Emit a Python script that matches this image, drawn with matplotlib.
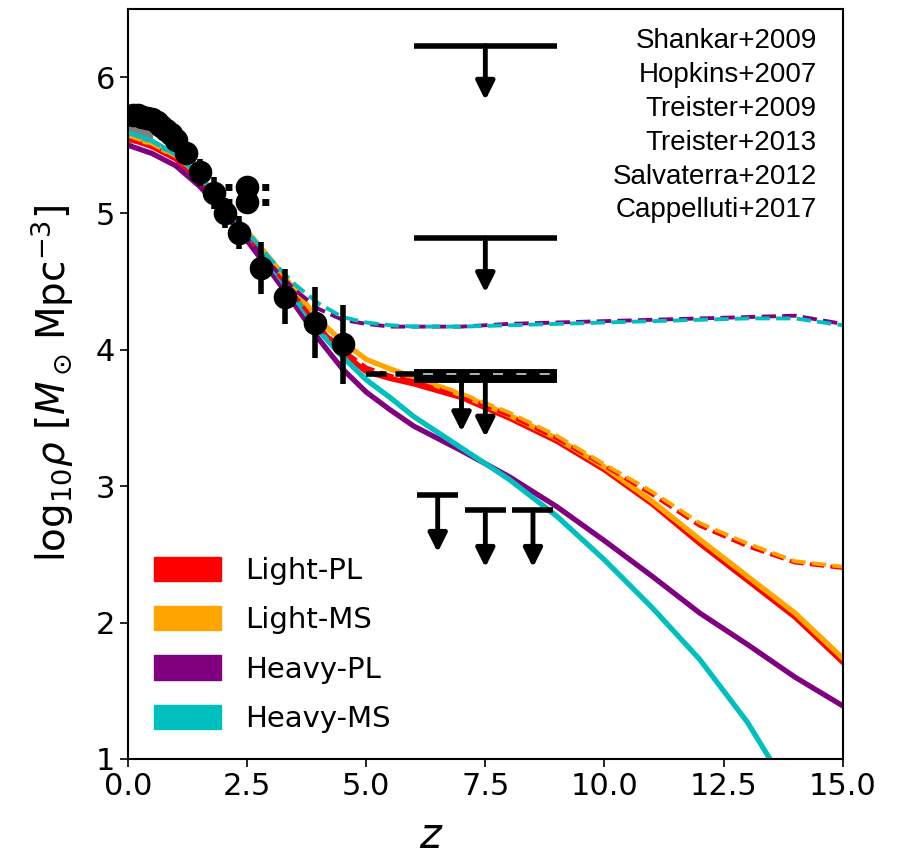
import numpy as np
import matplotlib
matplotlib.use("Agg")
import matplotlib.pyplot as plt
from matplotlib.patches import Patch

# ---------------- data ----------------
z_model = [0, 0.5, 1, 1.5, 2, 2.5, 3, 3.5, 4, 4.5, 5, 5.5, 6, 7, 8, 9, 10, 11, 12, 13, 14, 15]

light_pl = [5.55, 5.49, 5.40, 5.25, 5.05, 4.84, 4.62, 4.39, 4.16, 3.98, 3.84, 3.79, 3.75, 3.65, 3.50, 3.33, 3.12, 2.87, 2.58, 2.31, 2.04, 1.71]
light_ms = [5.57, 5.51, 5.42, 5.27, 5.08, 4.87, 4.66, 4.44, 4.22, 4.06, 3.93, 3.86, 3.80, 3.67, 3.52, 3.35, 3.14, 2.89, 2.61, 2.34, 2.07, 1.74]
heavy_pl = [5.50, 5.44, 5.35, 5.20, 5.01, 4.80, 4.57, 4.33, 4.08, 3.86, 3.69, 3.56, 3.44, 3.26, 3.07, 2.85, 2.60, 2.34, 2.07, 1.84, 1.60, 1.39]
heavy_ms = [5.59, 5.53, 5.43, 5.27, 5.07, 4.85, 4.62, 4.38, 4.14, 3.95, 3.78, 3.65, 3.51, 3.28, 3.05, 2.78, 2.46, 2.11, 1.73, 1.27, 0.70, 0.20]

light_pl_d = [5.55, 5.49, 5.40, 5.25, 5.05, 4.84, 4.62, 4.40, 4.17, 4.00, 3.87, 3.81, 3.77, 3.66, 3.52, 3.35, 3.15, 2.94, 2.71, 2.56, 2.44, 2.40]
light_ms_d = [5.57, 5.51, 5.42, 5.27, 5.08, 4.87, 4.66, 4.44, 4.22, 4.06, 3.93, 3.86, 3.80, 3.68, 3.54, 3.37, 3.16, 2.96, 2.73, 2.58, 2.45, 2.41]
heavy_pl_d = [5.50, 5.44, 5.35, 5.20, 5.01, 4.82, 4.62, 4.44, 4.30, 4.22, 4.19, 4.17, 4.17, 4.17, 4.19, 4.20, 4.21, 4.22, 4.23, 4.24, 4.25, 4.19]
heavy_ms_d = [5.59, 5.53, 5.43, 5.27, 5.08, 4.87, 4.66, 4.48, 4.34, 4.24, 4.20, 4.18, 4.17, 4.17, 4.18, 4.19, 4.20, 4.21, 4.22, 4.23, 4.23, 4.18]

# Shankar+2009 (dense low-z points) and grey band
z_shankar = [0.1, 0.2, 0.3, 0.4, 0.5, 0.6, 0.7, 0.8, 0.9, 1.0]
rho_shankar = [5.72, 5.72, 5.71, 5.70, 5.69, 5.67, 5.64, 5.61, 5.58, 5.54]
err_shankar = [0.04, 0.04, 0.04, 0.04, 0.05, 0.05, 0.05, 0.06, 0.06, 0.06]
z_band = [0.0, 0.25, 0.5]
band_lo = [5.52, 5.52, 5.50]
band_hi = [5.64, 5.63, 5.60]

# Hopkins+2007
z_hopkins = [1.22, 1.51, 1.80, 2.03, 2.33, 2.79, 3.29, 3.92, 4.51]
rho_hopkins = [5.44, 5.30, 5.15, 5.00, 4.86, 4.60, 4.39, 4.20, 4.04]
err_hopkins = [0.08, 0.10, 0.12, 0.11, 0.12, 0.19, 0.20, 0.26, 0.29]

# Treister+2009
z_treister09 = [2.49, 2.49]
rho_treister09 = [5.19, 5.08]
zlo_treister09 = [0.45, 0.45]
zhi_treister09 = [0.7, 0.7]

# upper limits: z centre, value, half width, arrow length
z_ul = [7.5, 7.5, 7.5, 7.0, 6.5, 7.5, 8.5]
rho_ul = [6.23, 4.82, 3.81, 3.82, 2.935, 2.825, 2.825]
zw_ul = [1.5, 1.5, 1.5, 2.0, 0.43, 0.43, 0.43]
len_ul = [0.40, 0.40, 0.45, 0.42, 0.42, 0.42, 0.42]
lw_ul = [4, 4, 10, 4, 4, 4, 4]
ls_ul = ['-', '-', '-', '--', '-', '-', '-']

labels = ['Light-PL', 'Light-MS', 'Heavy-PL', 'Heavy-MS']
colors = ['red', 'orange', 'purple', 'c']
refs = ['Shankar+2009', 'Hopkins+2007', 'Treister+2009', 'Treister+2013',
        'Salvaterra+2012', 'Cappelluti+2017']

# ---------------- plot ----------------
fig = plt.figure(figsize=(9.08, 8.57), dpi=100)
ax = fig.add_axes([0.141, 0.1144, 0.787, 0.8753])

ax.fill_between(z_band, band_lo, band_hi, color='grey', zorder=1)

solids = [light_pl, light_ms, heavy_pl, heavy_ms]
dashes = [light_pl_d, light_ms_d, heavy_pl_d, heavy_ms_d]
for y, c in zip(solids, colors):
    ax.plot(z_model, y, color=c, lw=3.8, zorder=2)
for y, c in zip(dashes, colors):
    ax.plot(z_model, y, color=c, lw=2.8, ls='--', zorder=2)

ax.errorbar(z_shankar, rho_shankar, yerr=err_shankar, fmt='o', color='k',
            ms=16, elinewidth=3, zorder=4)
ax.errorbar(z_hopkins, rho_hopkins, yerr=err_hopkins, fmt='o', color='k',
            ms=16, elinewidth=4, zorder=4)
eb = ax.errorbar(z_treister09, rho_treister09, xerr=[zlo_treister09, zhi_treister09],
                 fmt='o', color='k', ms=16, elinewidth=5, zorder=4)
eb[2][0].set_linestyle(':')

for zc, r, w, L, lw, ls in zip(z_ul, rho_ul, zw_ul, len_ul, lw_ul, ls_ul):
    ax.hlines(r, zc - w, zc + w, colors='k', lw=lw, linestyles=ls, zorder=3)
    ax.annotate('', xy=(zc, r - L), xytext=(zc, r),
                arrowprops=dict(arrowstyle='-|>', color='k', lw=3.5,
                                mutation_scale=28, shrinkA=0, shrinkB=0),
                zorder=3)
ax.hlines(3.825, 6.2, 9.0, colors='lightgrey', lw=1.2, linestyles=(0, (6, 8)), zorder=3.5)

for i, t in enumerate(refs):
    ax.text(0.964, 0.975 - i * 0.0453, t, transform=ax.transAxes, ha='right',
            va='top', fontsize=20, family='Liberation Sans')

handles = [Patch(color=c, label=l) for c, l in zip(colors, labels)]
ax.legend(handles=handles, loc='lower left', frameon=False, fontsize=21,
          handlelength=2.3, handleheight=0.9, labelspacing=0.72,
          handletextpad=0.8, bbox_to_anchor=(0.0, 0.0))

ax.set_xlim(0, 15)
ax.set_ylim(1, 6.5)
ax.set_xticks([0, 2.5, 5, 7.5, 10, 12.5, 15])
ax.set_yticks([1, 2, 3, 4, 5, 6])
ax.tick_params(labelsize=22, width=1.2, length=6)
for s in ax.spines.values():
    s.set_linewidth(1.5)
ax.set_xlabel(r'$z$', fontsize=30, labelpad=2)
ax.xaxis.set_label_coords(0.425, -0.075)
ax.set_ylabel(r'$\mathrm{log}_{10}\rho\ [M_\odot\,\mathrm{Mpc}^{-3}]$', fontsize=28, labelpad=14)

fig.savefig('out.png', dpi=100)
